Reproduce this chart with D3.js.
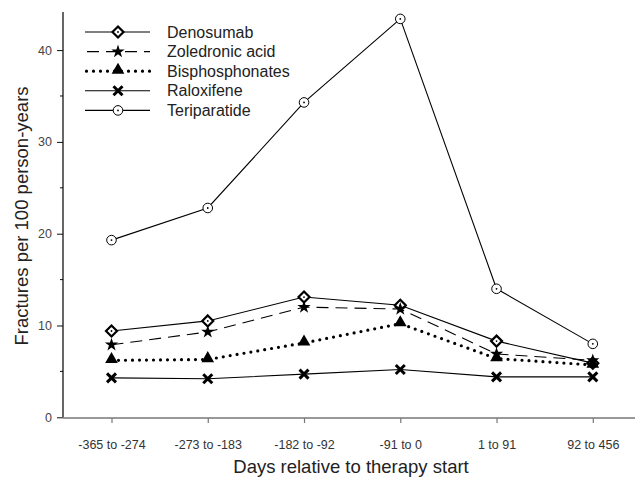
<!DOCTYPE html>
<html>
<head>
<meta charset="utf-8">
<script src="https://cdn.jsdelivr.net/npm/d3@7"></script>
<style>
  body { margin: 0; background: #fff; }
  text { font-family: "Liberation Sans", Arial, sans-serif; }
</style>
</head>
<body>
<script>
// categories + series values
var periods = ["-365 to -274", "-273 to -183", "-182 to -92", "-91 to 0", "1 to 91", "92 to 456"];
var denosumab     = [9.4, 10.5, 13.1, 12.2, 8.3, 5.9];
var zoledronic    = [7.9, 9.3, 12.0, 11.8, 6.9, 6.2];
var bisphos       = [6.2, 6.3, 8.1, 10.2, 6.4, 5.7];
var raloxifene    = [4.3, 4.2, 4.7, 5.2, 4.4, 4.4];
var teriparatide  = [19.3, 22.8, 34.3, 43.4, 14.0, 8.0];
var yMajor = [0, 10, 20, 30, 40];
var yMinor = [5, 15, 25, 35];

var series = [
  {name: "Denosumab", values: denosumab, dash: null, width: 1.1, marker: "diamond"},
  {name: "Zoledronic acid", values: zoledronic, dash: "12,7", width: 1.1, marker: "star"},
  {name: "Bisphosphonates", values: bisphos, dash: "0,7", width: 3.2, marker: "triangle"},
  {name: "Raloxifene", values: raloxifene, dash: null, width: 1.1, marker: "x"},
  {name: "Teriparatide", values: teriparatide, dash: null, width: 1.1, marker: "circle"}
];

var W = 635, H = 480;
var axisX = 63, axisY = 417.3;

var svg = d3.select("body").append("svg")
    .attr("width", W)
    .attr("height", H);

var x = d3.scalePoint().domain(periods).range([111.5, 592.8]);
var y = d3.scaleLinear().domain([0, 44.15]).range([axisY, 12]);

// y axis
var yAxis = svg.append("g").attr("transform", "translate(" + axisX + ",0)");
yAxis.call(d3.axisLeft(y).tickValues(yMajor).tickSize(6).tickPadding(5).tickSizeOuter(0));
yAxis.select(".domain").remove();
yAxis.selectAll(".tick line").attr("stroke", "#111");
yAxis.selectAll(".tick text")
    .style("font-size", "12.5px").attr("fill", "#444");
yAxis.selectAll(".minor").data(yMinor).enter().append("line")
    .attr("x1", -3).attr("x2", 0)
    .attr("y1", function(d) { return y(d); })
    .attr("y2", function(d) { return y(d); })
    .attr("stroke", "#111");
svg.append("line")
    .attr("x1", axisX).attr("x2", axisX)
    .attr("y1", y.range()[1]).attr("y2", axisY)
    .attr("stroke", "#000").attr("stroke-width", 1.2);

// x axis
var xAxis = svg.append("g").attr("transform", "translate(0," + (axisY + 0.7) + ")");
xAxis.call(d3.axisBottom(x).tickSize(5).tickPadding(17).tickSizeOuter(0));
xAxis.select(".domain").remove();
xAxis.selectAll(".tick line").attr("stroke", "#777").attr("stroke-width", 1.2);
xAxis.selectAll(".tick text")
    .style("font-size", "12.5px").attr("fill", "#333");
svg.append("line")
    .attr("x1", axisX).attr("x2", W)
    .attr("y1", axisY + 0.7).attr("y2", axisY + 0.7)
    .attr("stroke", "#777").attr("stroke-width", 1.4);

// axis titles
svg.append("text")
    .attr("transform", "translate(28," + 216 + ") rotate(-90)")
    .attr("text-anchor", "middle")
    .style("font-size", "18.5px")
    .attr("fill", "#222")
    .text("Fractures per 100 person-years");

svg.append("text")
    .attr("x", 351)
    .attr("y", 473)
    .attr("text-anchor", "middle")
    .style("font-size", "18.5px")
    .attr("fill", "#222")
    .text("Days relative to therapy start");

// markers
function drawMarker(g, type) {
  if (type == "diamond") {
    g.append("path").attr("d", "M0,-5.5L5.5,0L0,5.5L-5.5,0Z")
      .attr("fill", "#fff").attr("stroke", "#000").attr("stroke-width", 2.2);
    g.append("circle").attr("r", 0.9).attr("fill", "#000");
  } else if (type == "star") {
    g.append("path").attr("d", d3.symbol(d3.symbolStar, 55)()).attr("fill", "#000");
  } else if (type == "triangle") {
    g.append("path").attr("d", d3.symbol(d3.symbolTriangle, 70)()).attr("fill", "#000")
      .attr("transform", "translate(0,-1)");
  } else if (type == "x") {
    g.append("path").attr("d", "M-4.5,-4.5L4.5,4.5M-4.5,4.5L4.5,-4.5")
      .attr("stroke", "#000").attr("stroke-width", 3).attr("fill", "none");
  } else if (type == "circle") {
    g.append("circle").attr("r", 4.8)
      .attr("fill", "#fff").attr("stroke", "#000").attr("stroke-width", 1);
    g.append("circle").attr("r", 0.9).attr("fill", "#000");
  }
}

var line = d3.line()
    .x(function(d, i) { return x(periods[i]); })
    .y(function(d) { return y(d); });

series.forEach(function(s) {
  var p = svg.append("path")
      .attr("d", line(s.values))
      .attr("fill", "none")
      .attr("stroke", "#000")
      .attr("stroke-width", s.width);
  if (s.dash) p.attr("stroke-dasharray", s.dash);
  if (s.marker == "triangle") p.attr("stroke-linecap", "round");
});

series.forEach(function(s) {
  s.values.forEach(function(v, i) {
    var g = svg.append("g").attr("transform", "translate(" + x(periods[i]) + "," + y(v) + ")");
    drawMarker(g, s.marker);
  });
});

// legend
var legend = svg.append("g").attr("transform", "translate(85,32)");
series.forEach(function(s, i) {
  var row = legend.append("g").attr("transform", "translate(0," + (i * 19.6) + ")");
  var l = row.append("line")
      .attr("x1", 0).attr("x2", 65)
      .attr("stroke", "#000")
      .attr("stroke-width", s.width);
  if (s.dash) l.attr("stroke-dasharray", s.marker == "star" ? "0,2,12,5" : s.dash);
  if (s.marker == "triangle") l.attr("stroke-linecap", "round").attr("x1", 1.5);
  drawMarker(row.append("g").attr("transform", "translate(33,0)"), s.marker);
  row.append("text")
      .attr("x", 82)
      .attr("dy", "0.35em")
      .style("font-size", "16px")
      .attr("fill", "#222")
      .text(s.name);
});
</script>
</body>
</html>
